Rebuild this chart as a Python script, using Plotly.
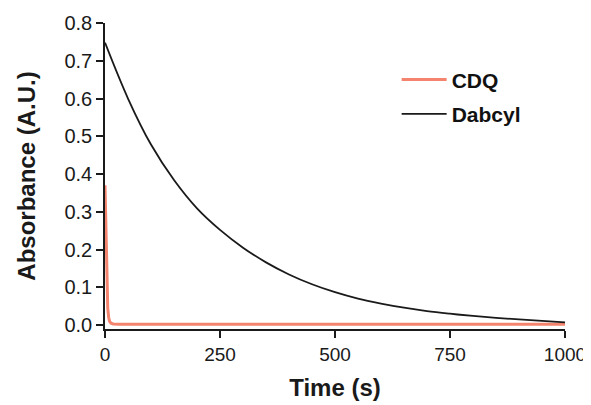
import plotly.graph_objects as go

# Data
dabcyl_t = [0, 50, 100, 150, 200, 250, 300, 350, 400, 450, 500,
            550, 600, 650, 700, 750, 800, 850, 900, 950, 1000]
dabcyl_a = [0.748, 0.600, 0.478, 0.384, 0.309, 0.252, 0.205, 0.166, 0.134, 0.108, 0.087,
            0.070, 0.057, 0.046, 0.037, 0.030, 0.024, 0.019, 0.015, 0.011, 0.007]

cdq_t = [0, 1, 2, 3, 4, 5, 6, 8, 10, 13, 18, 30, 100, 500, 1000]
cdq_a = [0.37, 0.31, 0.24, 0.17, 0.11, 0.07, 0.045, 0.02, 0.01, 0.005, 0.003, 0.002, 0.002, 0.002, 0.002]

x_ticks = [0, 250, 500, 750, 1000]
y_ticks = [0.0, 0.1, 0.2, 0.3, 0.4, 0.5, 0.6, 0.7, 0.8]

FONT = "Liberation Sans, Arial, sans-serif"

fig = go.Figure()
fig.add_trace(go.Scatter(x=cdq_t, y=cdq_a, mode="lines", name="CDQ",
                         line=dict(color="#F4846E", width=3), legendgroup="a"))
fig.add_trace(go.Scatter(x=dabcyl_t, y=dabcyl_a, mode="lines", name="Dabcyl",
                         line=dict(color="#1a1a1a", width=1.8, shape="spline", smoothing=1),
                         legendgroup="b"))

# page body has an 8px margin, so the figure is sized 8px smaller
fig.update_layout(
    width=583, height=397,
    margin=dict(l=97, r=26, t=15, b=76, autoexpand=False),
    plot_bgcolor="white", paper_bgcolor="white",
    font=dict(family=FONT, size=18, color="#1a1a1a"),
    legend=dict(x=0.634, y=0.881, xanchor="left", yanchor="top",
                font=dict(size=21, weight="bold", color="#111"),
                traceorder="grouped", tracegroupgap=4, itemwidth=45,
                bgcolor="rgba(0,0,0,0)"),
)
fig.update_xaxes(range=[0, 1000], tickvals=x_ticks, ticktext=[str(v) for v in x_ticks],
                 showgrid=False, zeroline=False, showline=True, linecolor="#1a1a1a",
                 linewidth=1.6, ticks="outside", ticklen=7, tickwidth=1.6,
                 tickcolor="#1a1a1a", tickfont=dict(size=19), automargin=False,
                 title=dict(text="Time (s)", font=dict(size=24, weight="bold"), standoff=16))
fig.update_yaxes(range=[-0.0105, 0.8], tickvals=y_ticks,
                 ticktext=[f"{v:.1f}" for v in y_ticks],
                 showgrid=False, zeroline=False, showline=True, linecolor="#1a1a1a",
                 linewidth=1.6, ticks="outside", ticklen=7, tickwidth=1.6,
                 tickcolor="#1a1a1a", tickfont=dict(size=20), automargin=False,
                 title=dict(text="Absorbance (A.U.)", font=dict(size=24, weight="bold"), standoff=22))

fig.write_html("out.html")
